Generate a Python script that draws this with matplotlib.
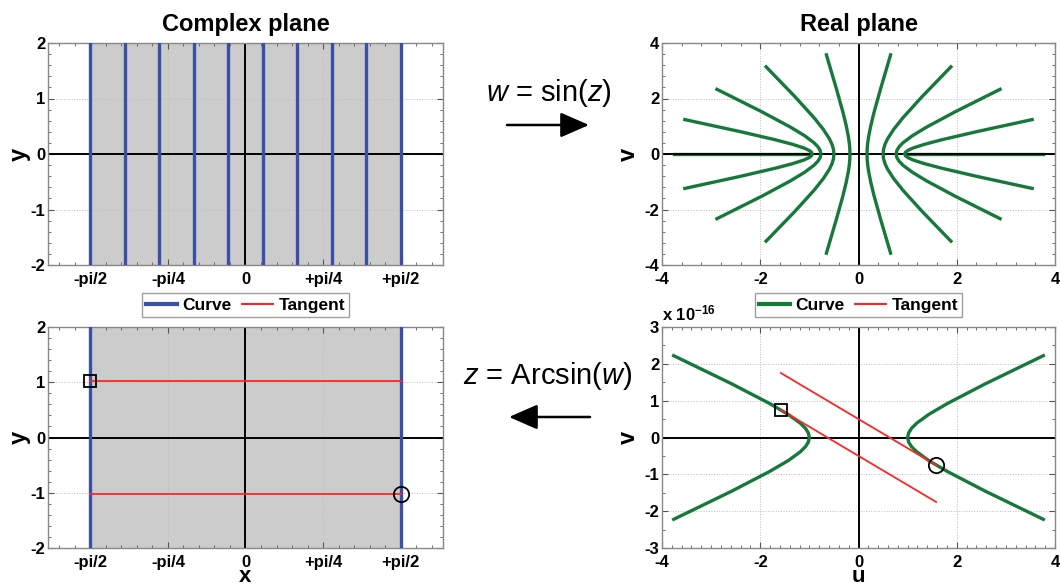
import matplotlib
matplotlib.use('Agg')
import matplotlib.pyplot as plt
from matplotlib.lines import Line2D
from matplotlib.patches import FancyArrowPatch, ArrowStyle
from matplotlib.ticker import MultipleLocator, FixedLocator

plt.rcParams['font.family'] = 'Liberation Sans'
plt.rcParams['font.weight'] = 'bold'
plt.rcParams['axes.labelweight'] = 'bold'
plt.rcParams['axes.unicode_minus'] = False
plt.rcParams['mathtext.fontset'] = 'custom'
plt.rcParams['mathtext.rm'] = 'Liberation Sans:normal'
plt.rcParams['mathtext.it'] = 'Liberation Sans:italic:normal'
plt.rcParams['mathtext.bf'] = 'Liberation Sans:bold'

# ---- data ----
pi_ticks = [-1.5708, -0.7854, 0.0, 0.7854, 1.5708]
pi_labels = ['-pi/2', '-pi/4', '0', '+pi/4', '+pi/2']

# top left: vertical lines x = const in the z plane
z_lines_x = [-1.5708, -1.2217, -0.8727, -0.5236, -0.1745,
             0.1745, 0.5236, 0.8727, 1.2217, 1.5708]
z_lines_y = [-2.0, 2.0]
z_strip = [-1.5708, 1.5708]

# top right: images of those lines in the w plane
w_curves_u = [
    [-3.535, -2.422, -1.702, -1.347, -1.114, -1.016, -0.959, -0.940, -0.959, -1.016, -1.114, -1.347, -1.702, -2.422, -3.535],
    [-2.882, -1.974, -1.387, -1.098, -0.908, -0.828, -0.781, -0.766, -0.781, -0.828, -0.908, -1.098, -1.387, -1.974, -2.882],
    [-1.881, -1.289, -0.905, -0.717, -0.593, -0.541, -0.510, -0.500, -0.510, -0.541, -0.593, -0.717, -0.905, -1.289, -1.881],
    [-0.653, -0.448, -0.314, -0.249, -0.206, -0.188, -0.177, -0.174, -0.177, -0.188, -0.206, -0.249, -0.314, -0.448, -0.653],
    [0.653, 0.448, 0.314, 0.249, 0.206, 0.188, 0.177, 0.174, 0.177, 0.188, 0.206, 0.249, 0.314, 0.448, 0.653],
    [1.881, 1.289, 0.905, 0.717, 0.593, 0.541, 0.510, 0.500, 0.510, 0.541, 0.593, 0.717, 0.905, 1.289, 1.881],
    [2.882, 1.974, 1.387, 1.098, 0.908, 0.828, 0.781, 0.766, 0.781, 0.828, 0.908, 1.098, 1.387, 1.974, 2.882],
    [3.535, 2.422, 1.702, 1.347, 1.114, 1.016, 0.959, 0.940, 0.959, 1.016, 1.114, 1.347, 1.702, 2.422, 3.535],
]
w_curves_v = [
    [-1.240, -0.812, -0.516, -0.351, -0.218, -0.140, -0.069, 0.0, 0.069, 0.140, 0.218, 0.351, 0.516, 0.812, 1.240],
    [-2.331, -1.527, -0.970, -0.660, -0.409, -0.264, -0.129, 0.0, 0.129, 0.264, 0.409, 0.660, 0.970, 1.527, 2.331],
    [-3.141, -2.057, -1.307, -0.889, -0.551, -0.356, -0.174, 0.0, 0.174, 0.356, 0.551, 0.889, 1.307, 2.057, 3.141],
    [-3.572, -2.339, -1.487, -1.011, -0.627, -0.405, -0.198, 0.0, 0.198, 0.405, 0.627, 1.011, 1.487, 2.339, 3.572],
    [-3.572, -2.339, -1.487, -1.011, -0.627, -0.405, -0.198, 0.0, 0.198, 0.405, 0.627, 1.011, 1.487, 2.339, 3.572],
    [-3.141, -2.057, -1.307, -0.889, -0.551, -0.356, -0.174, 0.0, 0.174, 0.356, 0.551, 0.889, 1.307, 2.057, 3.141],
    [-2.331, -1.527, -0.970, -0.660, -0.409, -0.264, -0.129, 0.0, 0.129, 0.264, 0.409, 0.660, 0.970, 1.527, 2.331],
    [-1.240, -0.812, -0.516, -0.351, -0.218, -0.140, -0.069, 0.0, 0.069, 0.140, 0.218, 0.351, 0.516, 0.812, 1.240],
]
w_axis_left = [-3.762, -1.0]
w_axis_right = [1.0, 3.762]
w_axis_v = [0.0, 0.0]

# bottom left: edges of the strip and the two tangent lines
bl_edge_x = [-1.5708, 1.5708]
bl_tangent_x = [-1.5708, 1.5708]
bl_tangent_y = [1.03, -1.03]
bl_square = (-1.5708, 1.03)
bl_circle = (1.5708, -1.03)

# bottom right: v values are in units of 1e-16
br_u_left = [-3.762, -2.578, -1.811, -1.433, -1.186, -1.081, -1.020, -1.000, -1.020, -1.081, -1.186, -1.433, -1.811, -2.578, -3.762]
br_u_right = [3.762, 2.578, 1.811, 1.433, 1.186, 1.081, 1.020, 1.000, 1.020, 1.081, 1.186, 1.433, 1.811, 2.578, 3.762]
br_v = [-2.221, -1.455, -0.924, -0.629, -0.390, -0.252, -0.123, 0.0, 0.123, 0.252, 0.390, 0.629, 0.924, 1.455, 2.221]
br_tan1_u = [-1.58, 1.58]
br_tan1_v = [1.75, -0.75]
br_tan2_u = [-1.58, 1.58]
br_tan2_v = [0.75, -1.75]
br_square = (-1.58, 0.75)
br_circle = (1.58, -0.75)

blue = '#3A4FA6'
green = '#16783A'
red = '#FF2525'
grey = '#CCCCCC'

fig = plt.figure(figsize=(10.6, 5.88), dpi=100)
W, H = 1060, 588


def place(x0, y0, x1, y1):
    return fig.add_axes([x0 / W, 1 - y1 / H, (x1 - x0) / W, (y1 - y0) / H])


ax_tl = place(48, 43, 443, 265)
ax_tr = place(662, 43, 1055, 265)
ax_bl = place(48, 327, 443, 548)
ax_br = place(662, 327, 1055, 548)


def style(ax):
    ax.grid(True, which='major', linestyle=':', color='#BBBBBB', linewidth=0.7)
    ax.tick_params(which='both', direction='in', top=True, right=True,
                   color='#555555', labelsize=12)
    ax.tick_params(which='major', length=4)
    ax.tick_params(which='minor', length=2.5)
    ax.tick_params(axis='x', pad=5)
    ax.tick_params(axis='y', pad=2)
    for s in ax.spines.values():
        s.set_color('#888888')
        s.set_linewidth(1.0)
    ax.axhline(0, color='black', lw=1.4, zorder=2)
    ax.axvline(0, color='black', lw=1.4, zorder=2)


for ax in (ax_tl, ax_bl):
    style(ax)
    ax.axvspan(z_strip[0], z_strip[1], color=grey, zorder=1, lw=0)
    ax.set_xlim(-2, 2)
    ax.set_ylim(-2, 2)
    ax.xaxis.set_major_locator(FixedLocator(pi_ticks))
    ax.set_xticklabels(pi_labels)
    ax.xaxis.set_minor_locator(MultipleLocator(0.15708))
    ax.yaxis.set_major_locator(MultipleLocator(1))
    ax.yaxis.set_minor_locator(MultipleLocator(0.2))
    ax.set_ylabel('y', fontsize=17, fontweight='bold', labelpad=0)

for x in z_lines_x:
    ax_tl.plot([x, x], z_lines_y, color=blue, lw=2.4, zorder=3)

for x in bl_edge_x:
    ax_bl.plot([x, x], z_lines_y, color=blue, lw=2.4, zorder=3)
for y in bl_tangent_y:
    ax_bl.plot(bl_tangent_x, [y, y], color=red, lw=1.3, zorder=4)
ax_bl.plot(*bl_square, marker='s', ms=9, mfc='none', mec='black', mew=1.3, zorder=5)
ax_bl.plot(*bl_circle, marker='o', ms=11, mfc='none', mec='black', mew=1.3, zorder=5)
ax_bl.set_xlabel('x', fontsize=16, fontweight='bold', labelpad=-3)

style(ax_tr)
ax_tr.set_xlim(-4, 4)
ax_tr.set_ylim(-4, 4)
ax_tr.xaxis.set_major_locator(MultipleLocator(2))
ax_tr.yaxis.set_major_locator(MultipleLocator(2))
ax_tr.xaxis.set_minor_locator(MultipleLocator(0.4))
ax_tr.yaxis.set_minor_locator(MultipleLocator(0.4))
ax_tr.plot(w_axis_left, w_axis_v, color=green, lw=2.4, zorder=1.8)
ax_tr.plot(w_axis_right, w_axis_v, color=green, lw=2.4, zorder=1.8)
for u, v in zip(w_curves_u, w_curves_v):
    ax_tr.plot(u, v, color=green, lw=2.4, zorder=3)
ax_tr.set_ylabel('v', fontsize=17, fontweight='bold', labelpad=3)

style(ax_br)
ax_br.set_xlim(-4, 4)
ax_br.set_ylim(-3, 3)
ax_br.xaxis.set_major_locator(MultipleLocator(2))
ax_br.yaxis.set_major_locator(MultipleLocator(1))
ax_br.xaxis.set_minor_locator(MultipleLocator(0.2))
ax_br.yaxis.set_minor_locator(MultipleLocator(0.5))
ax_br.plot(br_u_left, br_v, color=green, lw=2.4, zorder=3)
ax_br.plot(br_u_right, br_v, color=green, lw=2.4, zorder=3)
ax_br.plot(br_tan1_u, br_tan1_v, color=red, lw=1.3, zorder=4)
ax_br.plot(br_tan2_u, br_tan2_v, color=red, lw=1.3, zorder=4)
ax_br.plot(*br_square, marker='s', ms=9, mfc='none', mec='black', mew=1.3, zorder=5)
ax_br.plot(*br_circle, marker='o', ms=11, mfc='none', mec='black', mew=1.3, zorder=5)
ax_br.set_xlabel('u', fontsize=16, fontweight='bold', labelpad=-3)
ax_br.set_ylabel('v', fontsize=17, fontweight='bold', labelpad=3)
ax_br.text(0.0, 1.015, r'x 10$^{\mathbf{-16}}$', transform=ax_br.transAxes,
           fontsize=12, ha='left', va='bottom')

ax_tl.set_title('Complex plane', fontsize=17, fontweight='bold', pad=9)
ax_tr.set_title('Real plane', fontsize=17, fontweight='bold', pad=9)

for ax, c in ((ax_tl, blue), (ax_tr, green)):
    handles = [Line2D([], [], color=c, lw=3), Line2D([], [], color=red, lw=1.5)]
    ax.legend(handles, ['Curve', 'Tangent'], loc='center', bbox_to_anchor=(0.5, -0.182),
              ncol=2, fontsize=12.5, frameon=True, fancybox=False, edgecolor='#888888',
              handlelength=1.8, handletextpad=0.3, columnspacing=0.6,
              borderpad=0.25, borderaxespad=0)

fig.text(549 / W, 1 - 93 / H, r'$w$ = sin($z$)', fontsize=21, fontweight='normal',
         ha='center', va='center')
fig.text(548 / W, 1 - 376 / H, r'$z$ = Arcsin($w$)', fontsize=21, fontweight='normal',
         ha='center', va='center')

arrow = ArrowStyle('-|>', head_length=0.8, head_width=0.35)
fig.add_artist(FancyArrowPatch((507 / W, 1 - 125 / H), (589 / W, 1 - 125 / H),
                               transform=fig.transFigure, arrowstyle=arrow,
                               mutation_scale=22, lw=1.8, color='black',
                               shrinkA=0, shrinkB=0))
fig.add_artist(FancyArrowPatch((590 / W, 1 - 417 / H), (509 / W, 1 - 417 / H),
                               transform=fig.transFigure, arrowstyle=arrow,
                               mutation_scale=22, lw=1.8, color='black',
                               shrinkA=0, shrinkB=0))

fig.savefig('out.png', dpi=100)
